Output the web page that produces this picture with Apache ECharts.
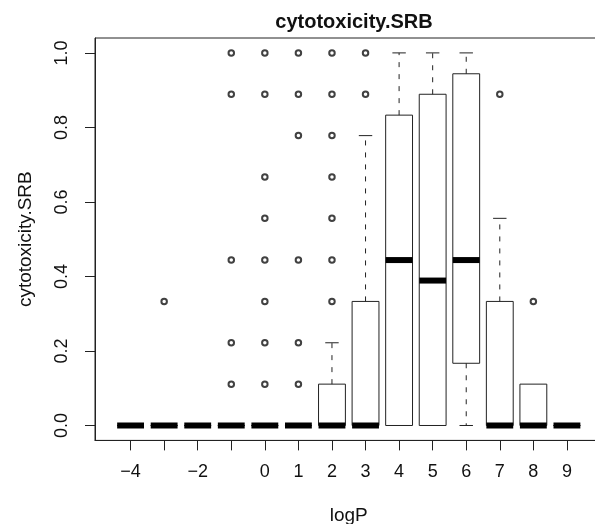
<!DOCTYPE html>
<html>
<head>
<meta charset="utf-8">
<script src="https://cdn.jsdelivr.net/npm/echarts@6/dist/echarts.min.js"></script>
<style>
html,body{margin:0;padding:0;background:#fff;overflow:hidden;}
#chart{width:595px;height:524px;}
</style>
</head>
<body>
<div id="chart"></div>
<script>
// ---- data ----
const categories = ['-4','-3','-2','-1','0','1','2','3','4','5','6','7','8','9'];
const whiskerLow  = [0,0,0,0,0,0,0,0,0,0,0,0,0,0];
const q1Values    = [0,0,0,0,0,0,0,0,0,0,0.167,0,0,0];
const medians     = [0,0,0,0,0,0,0,0,0.444,0.389,0.444,0,0,0];
const q3Values    = [0,0,0,0,0,0,0.111,0.333,0.833,0.889,0.944,0.333,0.111,0];
const whiskerHigh = [0,0,0,0,0,0,0.222,0.778,1.0,1.0,1.0,0.556,0.111,0];
const outliers = [
  [],
  [0.333],
  [],
  [1.0,0.889,0.444,0.222,0.111],
  [1.0,0.889,0.667,0.556,0.444,0.333,0.222,0.111],
  [1.0,0.889,0.778,0.444,0.222,0.111],
  [1.0,0.889,0.778,0.667,0.556,0.444,0.333],
  [1.0,0.889],
  [],
  [],
  [],
  [0.889],
  [0.333],
  []
];
const yTicks = [0,0.2,0.4,0.6,0.8,1.0];
const xLabelShown = ['-4','-2','0','1','2','3','4','5','6','7','8','9'];

// ---- build series data ----
const boxData = categories.map((c,i)=>[i+1, whiskerLow[i], q1Values[i], medians[i], q3Values[i], whiskerHigh[i]]);
const outlierData = [];
outliers.forEach((arr,i)=>arr.forEach(v=>outlierData.push([i+1, v])));
const xTickValues = categories.map((c,i)=>i+1);
const xLabelValues = categories.map((c,i)=>i+1).filter(v=>xLabelShown.indexOf(categories[v-1])>=0);

const FONT = "'Liberation Sans', Arial, sans-serif";
const INK = '#222';

const chart = echarts.init(document.getElementById('chart'), null, {renderer:'canvas'});
chart.setOption({
  animation:false,
  backgroundColor:'#fff',
  title:{
    text:'cytotoxicity.SRB',
    left:349, top:7, textAlign:'center',
    textStyle:{fontFamily:FONT, fontWeight:'bold', fontSize:20, color:'#111'}
  },
  grid:{left:95, top:38, right:-7.5, bottom:83.6, show:true, borderColor:INK, borderWidth:1,
        backgroundColor:'transparent', containLabel:false, outerBoundsMode:'none'},
  xAxis:{
    type:'value', min:-0.06, max:15.06,
    name:'logP', nameLocation:'middle', nameGap:66,
    nameTextStyle:{fontFamily:FONT, fontSize:19, color:'#111'},
    axisLine:{show:true, onZero:false, lineStyle:{color:INK, width:1}},
    axisTick:{show:true, length:10, customValues:xTickValues, lineStyle:{color:INK}},
    axisLabel:{customValues:xLabelValues, margin:23, fontFamily:FONT, fontSize:18, color:'#111',
      formatter:v=>categories[Math.round(v)-1].replace('-','\u2212')},
    splitLine:{show:false}
  },
  yAxis:{
    type:'value', min:-0.04, max:1.04,
    name:'cytotoxicity.SRB', nameLocation:'middle', nameGap:60, nameRotate:90,
    nameTextStyle:{fontFamily:FONT, fontSize:19, color:'#111'},
    axisLine:{show:true, onZero:false, lineStyle:{color:INK, width:1}},
    axisTick:{show:true, length:10, customValues:yTicks, lineStyle:{color:INK}},
    axisLabel:{customValues:yTicks, rotate:90, margin:24, fontFamily:FONT, fontSize:18, color:'#111',
      formatter:v=>v.toFixed(1)},
    splitLine:{show:false}
  },
  series:[
    {
      type:'custom',
      data:boxData,
      encode:{x:0, y:[1,2,3,4,5]},
      z:2,
      renderItem:function(params, api){
        const x = api.value(0), lo = api.value(1), q1 = api.value(2), med = api.value(3), q3 = api.value(4), hi = api.value(5);
        const w = api.size([0.8, 0])[0];
        const pMed = api.coord([x, med]);
        const pLo = api.coord([x, lo]), pQ1 = api.coord([x, q1]), pQ3 = api.coord([x, q3]), pHi = api.coord([x, hi]);
        const cx = pMed[0];
        const children = [];
        children.push({type:'rect', shape:{x:cx-w/2, y:pQ3[1], width:w, height:pQ1[1]-pQ3[1]},
          style:{fill:'#fff', stroke:INK, lineWidth:1}});
        if (hi > q3) {
          children.push({type:'line', shape:{x1:cx, y1:pQ3[1], x2:cx, y2:pHi[1]}, style:{stroke:INK, lineWidth:1, lineDash:[5,7]}});
          children.push({type:'line', shape:{x1:cx-w/4, y1:pHi[1], x2:cx+w/4, y2:pHi[1]}, style:{stroke:INK, lineWidth:1}});
        }
        if (lo < q1) {
          children.push({type:'line', shape:{x1:cx, y1:pQ1[1], x2:cx, y2:pLo[1]}, style:{stroke:INK, lineWidth:1, lineDash:[5,7]}});
          children.push({type:'line', shape:{x1:cx-w/4, y1:pLo[1], x2:cx+w/4, y2:pLo[1]}, style:{stroke:INK, lineWidth:1}});
        }
        children.push({type:'line', shape:{x1:cx-w/2, y1:pMed[1], x2:cx+w/2, y2:pMed[1]}, style:{stroke:'#000', lineWidth:6, lineCap:'butt'}});
        return {type:'group', children:children};
      }
    },
    {
      type:'scatter',
      data:outlierData,
      symbol:'circle',
      symbolSize:5.5,
      z:3,
      itemStyle:{color:'rgba(0,0,0,0)', borderColor:'#111', borderWidth:2}
    }
  ]
});
</script>
</body>
</html>
